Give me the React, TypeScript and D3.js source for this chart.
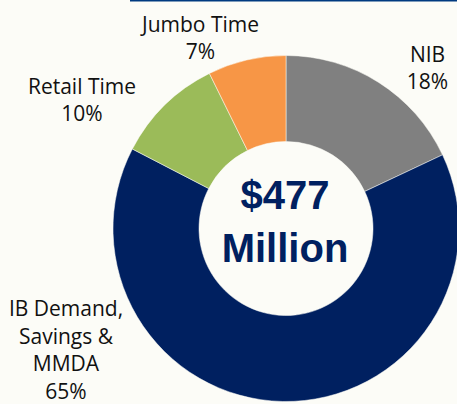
import React, { useEffect, useRef } from 'react';
import * as d3 from 'd3';

// deposit mix, % of total
const categories = ['NIB', 'IB Demand, Savings & MMDA', 'Retail Time', 'Jumbo Time'];
const shares = [18.0, 64.6, 10.1, 7.3];
const colors = ['#808080', '#002060', '#9BBB59', '#F79646'];
const labelLines = [['NIB'], ['IB Demand,', 'Savings &', 'MMDA'], ['Retail Time'], ['Jumbo Time']];
const centerLines = ['$477', 'Million'];

const width = 457;
const height = 404;

const App = () => {
  const ref = useRef<SVGSVGElement | null>(null);

  useEffect(() => {
    const svg = d3.select(ref.current);
    svg.selectAll('*').remove();

    const cx = 286;
    const cy = 228.5;
    const outerR = 173;
    const innerR = 87;

    svg.append('rect').attr('width', width).attr('height', height).attr('fill', '#FCFCF7');

    // thin rule along the top
    svg
      .append('line')
      .attr('x1', 130)
      .attr('x2', width)
      .attr('y1', 0.75)
      .attr('y2', 0.75)
      .attr('stroke', '#003A80')
      .attr('stroke-width', 1.5);

    const pie = d3
      .pie<number>()
      .sort(null)
      .startAngle(0)
      .endAngle(2 * Math.PI);
    const arcs = pie(shares);
    const arc = d3.arc<d3.PieArcDatum<number>>().innerRadius(innerR).outerRadius(outerR);

    const g = svg.append('g').attr('transform', `translate(${cx},${cy})`);
    g.selectAll('path')
      .data(arcs)
      .join('path')
      .attr('d', arc)
      .attr('fill', (d, i) => colors[i])
      .attr('stroke', '#FCFCF7')
      .attr('stroke-width', 0.5);

    // labels, offsets from donut centre (layout only)
    const labelPos = [
      [141.5, -167],
      [-220, 87.5],
      [-204, -135],
      [-85.5, -197],
    ];
    const lineH = 27.5;
    arcs.forEach((a, i) => {
      const lines = [...labelLines[i], `${Math.round(a.data)}%`];
      const t = svg
        .append('text')
        .attr('text-anchor', 'middle')
        .attr('font-family', '"Open Sans", Lato, sans-serif')
        .attr('font-size', 21)
        .attr('fill', '#111');
      lines.forEach((ln, j) => {
        t.append('tspan')
          .attr('x', cx + labelPos[i][0])
          .attr('y', cy + labelPos[i][1] + j * lineH)
          .text(ln);
      });
    });

    const c = svg
      .append('text')
      .attr('text-anchor', 'middle')
      .attr('font-family', '"Liberation Sans", Arial, sans-serif')
      .attr('font-weight', 'bold')
      .attr('font-size', 40)
      .attr('fill', '#002060');
    centerLines.forEach((ln, j) => {
      c.append('tspan')
        .attr('x', cx - 1)
        .attr('y', cy - 20 + j * 53)
        .text(ln);
    });
  }, []);

  return (
    <svg
      ref={ref}
      width={width}
      height={height}
      style={{ position: 'fixed', left: 0, top: 0, display: 'block' }}
    />
  );
};

export default App;
